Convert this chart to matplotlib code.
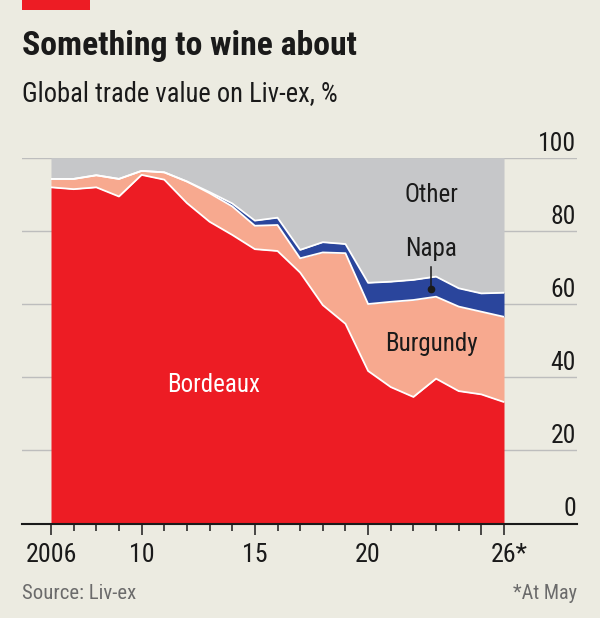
import matplotlib
matplotlib.use("Agg")
import matplotlib.pyplot as plt
import matplotlib.font_manager as fm
from matplotlib.ticker import FixedLocator, NullFormatter
from matplotlib.patches import Rectangle
import numpy as np

# ---------------- data ----------------
years = list(range(2006, 2027))
bordeaux = [91.9, 91.4, 91.9, 89.4, 95.3, 94.0, 87.6, 82.5, 78.9, 75.0, 74.5,
            68.6, 59.7, 54.6, 41.7, 37.3, 34.6, 39.6, 36.2, 35.3, 33.2]
burgundy = [2.3, 2.8, 3.3, 4.8, 1.1, 2.0, 5.9, 7.8, 7.8, 6.4, 7.1,
            3.9, 14.4, 19.3, 18.3, 23.3, 26.5, 22.4, 23.1, 22.6, 23.3]
napa = [0.0, 0.0, 0.0, 0.0, 0.0, 0.0, 0.0, 0.3, 0.8, 1.4, 2.0,
        2.3, 2.8, 2.5, 5.8, 5.5, 5.5, 5.5, 5.0, 5.0, 6.6]
other = [5.8, 5.8, 4.8, 5.8, 3.6, 4.0, 6.5, 9.4, 12.5, 17.2, 16.4,
         25.2, 23.1, 23.6, 34.2, 33.9, 33.4, 32.5, 35.7, 37.1, 36.9]
series_names = ["Bordeaux", "Burgundy", "Napa", "Other"]
y_ticks = [0, 20, 40, 60, 80, 100]
x_major = [2006, 2010, 2015, 2020, 2025, 2026]
x_labels = {2006: "2006", 2010: "10", 2015: "15", 2020: "20", 2026: "26*"}

# ---------------- style ----------------
BG = "#ECEBE1"
RED = "#ED1C24"
SALMON = "#F7A98F"
NAVY = "#2A459C"
GREY = "#C6C7C9"
GRID = "#BDBDBD"
INK = "#1A1A1A"
SRC = "#6B6B6B"

names = {f.name for f in fm.fontManager.ttflist}
FONT = next((n for n in ["Roboto Condensed", "Liberation Sans Narrow",
                         "Open Sans Condensed"] if n in names), "Roboto")
plt.rcParams["font.family"] = [FONT, "DejaVu Sans"]
CAP = 0.711  # cap-height / em

W, H = 600, 618
fig = plt.figure(figsize=(W / 100, H / 100), dpi=100, facecolor=BG)
renderer = fig.canvas.get_renderer()

# axes geometry (pixels)
AX_L, AX_R, AX_T, AX_B = 22, 577, 157.7, 523.5
X0_PX, X1_PX = 51, 504  # 2006 and 2026 positions
px_per_year = (X1_PX - X0_PX) / (2026 - 2006)
ax = fig.add_axes([AX_L / W, 1 - AX_B / H, (AX_R - AX_L) / W, (AX_B - AX_T) / H])
ax.set_facecolor(BG)
ax.set_xlim(2006 + (AX_L - X0_PX) / px_per_year, 2006 + (AX_R - X0_PX) / px_per_year)
ax.set_ylim(0, 100)

x = np.array(years)
c1 = np.array(bordeaux)
c2 = c1 + np.array(burgundy)
c3 = c2 + np.array(napa)
c4 = c3 + np.array(other)

for yv in y_ticks[1:]:
    ax.axhline(yv, color=GRID, lw=1.0, zorder=0)

ax.fill_between(x, 0, c1, color=RED, lw=0, zorder=2)
ax.fill_between(x, c1, c2, color=SALMON, lw=0, zorder=2)
ax.fill_between(x, c2, c3, color=NAVY, lw=0, zorder=2)
ax.fill_between(x, c3, c4, color=GREY, lw=0, zorder=2)
for top in (c1, c2, c3):
    ax.plot(x, top, color="white", lw=1.3, zorder=3, solid_capstyle="butt",
            solid_joinstyle="round")

# spines / ticks
for s in ("top", "left", "right"):
    ax.spines[s].set_visible(False)
ax.spines["bottom"].set_color(INK)
ax.spines["bottom"].set_linewidth(1.5)
ax.spines["bottom"].set_zorder(5)
ax.set_yticks([])
ax.xaxis.set_major_locator(FixedLocator(x_major))
ax.xaxis.set_minor_locator(FixedLocator([yr for yr in years if yr not in x_major]))
ax.xaxis.set_major_formatter(NullFormatter())
ax.tick_params(axis="x", which="major", length=8, width=1.1, color=INK, direction="out")
ax.tick_params(axis="x", which="minor", length=5, width=1.1, color=INK, direction="out")


def fig_text(xp, yp, s, width=None, cap=None, ha="left", weight="normal", color=INK,
             size=None):
    t = fig.text(xp / W, 1 - yp / H, s, ha=ha, va="baseline", fontsize=10,
                 fontweight=weight, color=color)
    if size is None:
        w = t.get_window_extent(renderer).width
        size_w = 10 * width / w
        size_h = cap / CAP * 0.72
        size = (size_w * size_h) ** 0.5
    t.set_fontsize(size)
    return size


# top red tag
fig.add_artist(Rectangle((22 / W, 1 - 10 / H), 68 / W, 10 / H, transform=fig.transFigure,
                         color=RED, lw=0))

fig_text(22, 55, "Something to wine about", 348, 23, weight="bold")
fig_text(22, 101.5, "Global trade value on Liv-ex, %", 336, 17.7)

# y tick labels (right, above gridlines)
ysize = None
for yv in y_ticks[::-1]:
    ypx = AX_B - (AX_B - AX_T) * yv / 100
    if ysize is None:
        ysize = fig_text(576, ypx - 7, str(yv), 36, 19, ha="right")
    else:
        fig_text(576, ypx - 7, str(yv), ha="right", size=ysize)

# x tick labels
xsize = fig_text(X0_PX, 562, "2006", 55, 17, ha="center")
for yr, lab in x_labels.items():
    if yr == 2006:
        continue
    xp = X0_PX + (yr - 2006) * px_per_year
    if lab.endswith("*"):
        fig_text(490.7, 562, lab, ha="left", size=xsize)
    else:
        fig_text(xp, 562, lab, ha="center", size=xsize)

# series labels
lsize = fig_text(431, 201.5, "Other", 57, 16.7, ha="center")
fig_text(431.5, 256.5, "Napa", ha="center", size=lsize)
fig_text(431.5, 351.5, "Burgundy", ha="center", size=lsize)
fig_text(214, 391.5, "Bordeaux", ha="center", color="white", size=lsize)

# Napa pointer
px_x = 430.7
fig.add_artist(plt.Line2D([px_x / W, px_x / W], [1 - 266.5 / H, 1 - 288.5 / H],
                          transform=fig.transFigure, color=INK, lw=1.1, zorder=10))
fig.add_artist(plt.Line2D([px_x / W], [1 - 288.5 / H], transform=fig.transFigure,
                          marker="o", markersize=4.5, color=INK, lw=0, zorder=10))

# footer
fig_text(22.5, 599, "Source: Liv-ex", 120, 14, color=SRC)
fig_text(577, 599, "*At May", 65, 14, ha="right", color=SRC)

fig.savefig("out.png", dpi=100, facecolor=BG)
